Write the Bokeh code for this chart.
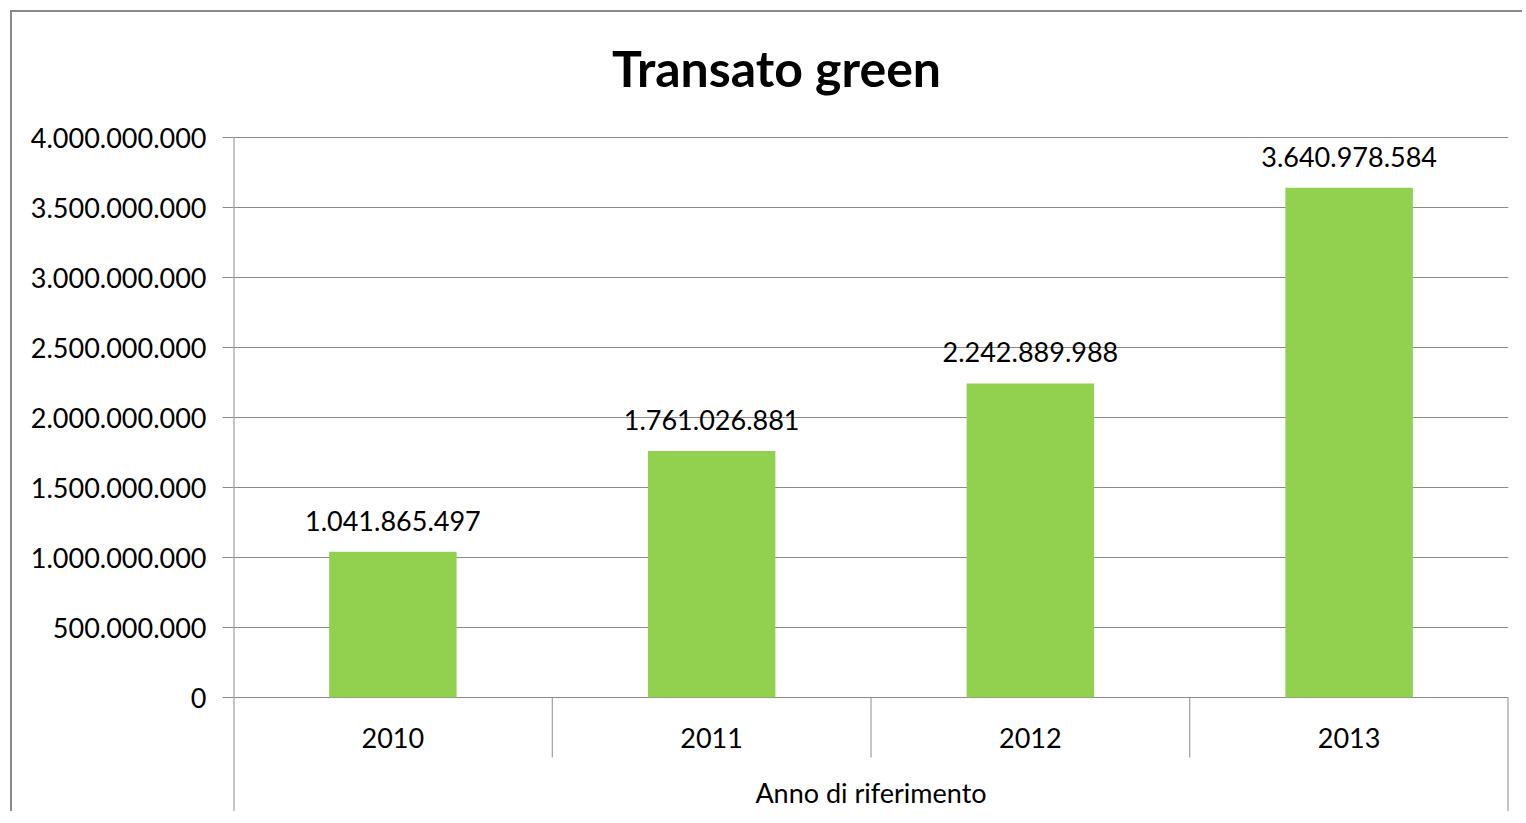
from bokeh.plotting import figure
from bokeh.models import FactorRange, Range1d, FixedTicker, CustomJSTickFormatter
from bokeh.core.properties import value
from bokeh.embed import file_html
from bokeh.resources import INLINE

# ---- data ----
title_text = "Transato green"
years = ["2010", "2011", "2012", "2013"]
transato = [1041865497, 1761026881, 2242889988, 3640978584]
labels = ["1.041.865.497", "1.761.026.881", "2.242.889.988", "3.640.978.584"]
y_ticks = [0, 500000000, 1000000000, 1500000000, 2000000000,
           2500000000, 3000000000, 3500000000, 4000000000]

# ---- layout (pixels) ----
W, H = 1512, 801
LEFT, TOP = 221, 125     # plot-area left edge and the pixel row of 4e9
FRAME_W = 1275
PLOT_H = 560             # pixels from 0 to 4e9
YMAX = 4000000000
px = YMAX / PLOT_H       # data units per pixel
ybot = -(H - TOP - PLOT_H) * px
ytop = YMAX + TOP * px
TITLE_CX = 543           # title centre, pixels right of plot-area left

GRID = "#8c8c8c"
GREEN = "#92D050"
FONT = "Lato"
FS = "27px"

p = figure(width=W, height=H, output_backend="svg", toolbar_location=None,
           x_range=FactorRange(*years, range_padding=0),
           y_range=Range1d(ybot, ytop),
           min_border_left=LEFT, min_border_top=0,
           min_border_right=W - LEFT - FRAME_W, min_border_bottom=0)
p.styles = {"margin-left": "10px", "margin-top": "10px",
            "border-left": "2px solid #8a8a8a", "border-top": "2px solid #8a8a8a"}
p.outline_line_color = None
p.background_fill_color = "white"
p.border_fill_color = "white"

n = len(years)

# title
p.text(x=[TITLE_CX / FRAME_W * n], y=[YMAX], text=[title_text], text_font=value(FONT),
       text_font_size=value("50px"), text_font_style="bold", text_color="black",
       text_align="center", text_baseline="bottom", y_offset=-40)

# y axis
p.yaxis.ticker = FixedTicker(ticks=y_ticks)
p.yaxis.formatter = CustomJSTickFormatter(code="""
    return Math.round(tick).toString().replace(/\\B(?=(\\d{3})+(?!\\d))/g, '.');
""")
p.yaxis.major_label_text_font = FONT
p.yaxis.major_label_text_font_size = FS
p.yaxis.major_label_text_color = "black"
p.yaxis.axis_line_color = None
p.yaxis.major_tick_line_color = GRID
p.yaxis.major_tick_out = 11
p.yaxis.major_tick_in = 0
p.yaxis.minor_tick_line_color = None
p.yaxis.major_label_standoff = 16

# grid
p.ygrid.ticker = FixedTicker(ticks=y_ticks)
p.ygrid.grid_line_color = GRID
p.xgrid.grid_line_color = None

# x axis fixed at zero
p.xaxis.fixed_location = 0
p.xaxis.axis_line_color = None
p.xaxis.major_tick_line_color = None
p.xaxis.minor_tick_line_color = None
p.xaxis.major_label_text_font = FONT
p.xaxis.major_label_text_font_size = FS
p.xaxis.major_label_text_color = "black"
p.xaxis.major_label_standoff = 24
p.xaxis.axis_label = "Anno di riferimento"
p.xaxis.axis_label_text_font = FONT
p.xaxis.axis_label_text_font_size = FS
p.xaxis.axis_label_text_font_style = "normal"
p.xaxis.axis_label_text_color = "black"
p.xaxis.axis_label_standoff = 25

# bars
p.vbar(x=years, top=transato, width=0.4, fill_color=GREEN, line_color=None)

# data labels
p.text(x=years, y=transato, text=labels, text_font=value(FONT),
       text_font_size=value(FS), text_color="black",
       text_align="center", text_baseline="alphabetic", y_offset=-31)

# vertical axis line and category separators (multi-level axis boxes)
bounds = list(range(1, n))
p.segment(x0=[0], y0=[YMAX], x1=[0], y1=[ybot], line_color=GRID, line_width=2)
p.segment(x0=bounds, y0=[0] * len(bounds), x1=bounds, y1=[-60 * px] * len(bounds),
          line_color=GRID, line_width=1)
p.segment(x0=[n], y0=[0], x1=[n], y1=[ybot], line_color=GRID, line_width=2)

open("out.html", "w").write(file_html(p, INLINE))
